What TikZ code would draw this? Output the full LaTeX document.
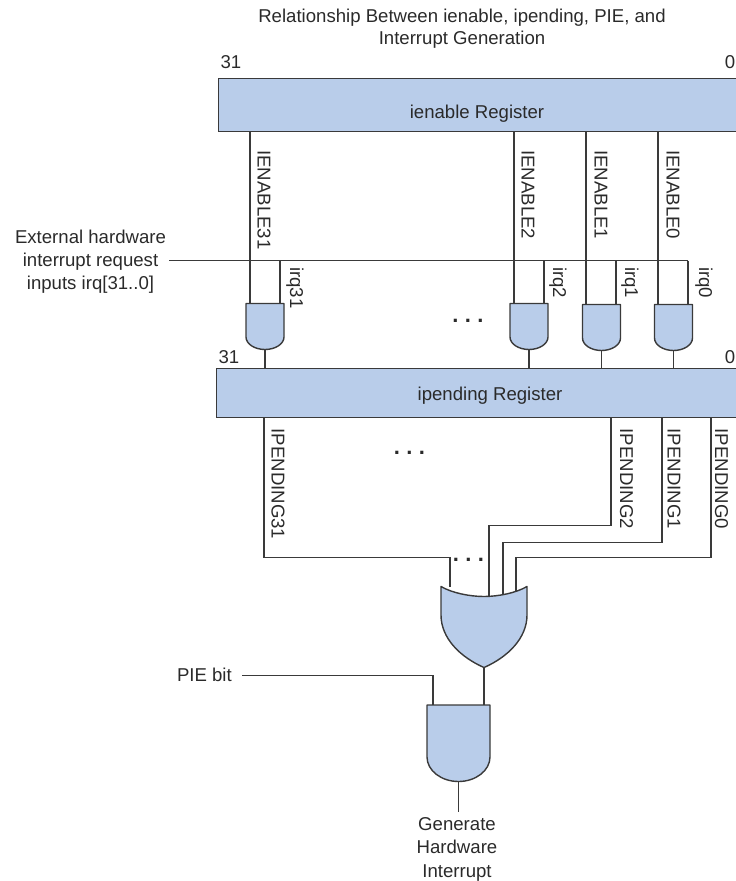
\documentclass[tikz,border=0pt]{standalone}
\usepackage{fontspec}
\setmainfont{Liberation Sans}
\definecolor{gatefill}{HTML}{B9CDEA}
\definecolor{ink}{HTML}{3A3A3A}
\definecolor{txt}{HTML}{2A2A2A}
\tikzset{
  wire/.style={draw=ink,line width=1.3pt},
  gate/.style={draw=ink,line width=1.4pt,fill=gatefill,line join=round},
  reg/.style={draw=ink,line width=1.4pt,fill=gatefill,rectangle,inner sep=0pt,anchor=north west},
  lbl/.style={text=txt,inner sep=0pt,font=\fontsize{18.6}{22}\selectfont},
  vlbl/.style={lbl,rotate=-90,anchor=west},
  dots/.style={text=txt,inner sep=0pt,anchor=base,font=\bfseries\fontsize{22}{24}\selectfont},
}
% name, left, right, top, straight-end, bottom
\newcommand{\andgate}[6]{%
  \pgfmathsetmacro{\cx}{(#2+#3)/2}%
  \pgfmathsetmacro{\kx}{0.55*(#3-#2)/2}%
  \pgfmathsetmacro{\ky}{#5+0.55*(#6-#5)}%
  \path[gate] (#2,#4) -- (#3,#4) -- (#3,#5)
    .. controls (#3,\ky) and ({\cx+\kx},#6) .. (\cx,#6)
    .. controls ({\cx-\kx},#6) and (#2,\ky) .. (#2,#5) -- cycle;
  \coordinate (#1out) at (\cx,#6);
}
\newcommand{\threedots}{.\hspace{6.4pt}.\hspace{6.4pt}.}
\begin{document}
\begin{tikzpicture}[x=1pt,y=-1pt]
\useasboundingbox (0,0) rectangle (736,881);
% registers
\node[reg,minimum width=522pt,minimum height=53pt] (ien) at (218,78) {};
\node[reg,minimum width=524pt,minimum height=49pt] (ipe) at (216,368) {};
\node[lbl] (ient) at (477,113.5) {ienable Register};
\node[lbl] (ipet) at (490,395.5) {ipending Register};
% title
\node[lbl,align=center] (title) at (462,29) {Relationship Between ienable, ipending, PIE, and\\Interrupt Generation};
\node[lbl] (n31a) at (231,62) {31};
\node[lbl,anchor=east] (n0a) at (735.5,62) {0};
\node[lbl] (n31b) at (229,357) {31};
\node[lbl,anchor=east] (n0b) at (735.5,357) {0};
% irq input
\node[lbl,align=center,font=\fontsize{18.6}{23}\selectfont] (ext) at (90.5,262) {External hardware\\interrupt request\\inputs irq[31..0]};
\coordinate (busL) at (169,260.5);
\coordinate (busR) at (688,260.5);
\draw[wire] (busL) -- (busR);
% wires into first-rank gates
\foreach \nm/\a/\b/\t in {31/250/280/303.5,2/514/544/303.5,1/586/616/304.5,0/658/688/304.5}{
  \coordinate (en\nm) at (\a,131);
  \coordinate (ain\nm) at (\a,\t);
  \coordinate (irqt\nm) at (\b,260.5);
  \coordinate (irqb\nm) at (\b,\t);
  \draw[wire] (en\nm) -- (ain\nm);
  \draw[wire] (irqt\nm) -- (irqb\nm);
}
% gates
\andgate{g31}{246}{284}{303.5}{337}{349.5}
\andgate{g2}{510}{548}{303.5}{337}{349.5}
\andgate{g1}{582.5}{620.5}{304.5}{338}{350.5}
\andgate{g0}{654.5}{692.5}{304.5}{338}{350.5}
\foreach \g in {g31,g2,g1,g0}{
  \draw[wire] (\g out) -- (\g out |- ipe.north);
}
% labels on wires
\node[vlbl] (l31) at (264,150) {IENABLE31};
\node[vlbl] (l2) at (528,150) {IENABLE2};
\node[vlbl] (l1) at (601,150) {IENABLE1};
\node[vlbl] (l0) at (673,150) {IENABLE0};
\node[vlbl] (q31) at (295,267) {irq31};
\node[vlbl] (q2) at (558,267) {irq2};
\node[vlbl] (q1) at (630,267) {irq1};
\node[vlbl] (q0) at (704,267) {irq0};
\node[dots] (d1) at (468,322.5) {\threedots};
\node[dots] (d2) at (409.5,454.5) {\threedots};
\node[dots] (d3) at (468.5,561.5) {\threedots};
% pending outputs
\coordinate (p31) at (264,417); \coordinate (p31b) at (450,587);
\coordinate (p2) at (611,417);  \coordinate (p2b) at (489,597);
\coordinate (p1) at (662,417);  \coordinate (p1b) at (503,596);
\coordinate (p0) at (711,417);  \coordinate (p0b) at (516,594);
\draw[wire] (p31) |- (450,557.5) -- (p31b);
\draw[wire] (p2) |- (489,525.5) -- (p2b);
\draw[wire] (p1) |- (503,542.5) -- (p1b);
\draw[wire] (p0) |- (516,557.5) -- (p0b);
\node[vlbl] (pl31) at (278,428.5) {IPENDING31};
\node[vlbl] (pl2) at (626.5,428.5) {IPENDING2};
\node[vlbl] (pl1) at (674,428.5) {IPENDING1};
\node[vlbl] (pl0) at (721.5,428.5) {IPENDING0};
% OR gate
\path[gate] (441,586.5) .. controls (452,593) and (470,596.5) .. (484,596.5)
  .. controls (498,596.5) and (516,593) .. (527,586.5) -- (527,615)
  .. controls (527,638) and (508,657) .. (484,667.5)
  .. controls (460,657) and (441,638) .. (441,615) -- cycle;
\coordinate (orout) at (484,667.5);
% final AND
\coordinate (pieL) at (242,675.5);
\node[lbl,anchor=east] (pie) at (232,675) {PIE bit};
\coordinate (pieIn) at (433,705);
\draw[wire] (pieL) -| (pieIn);
\coordinate (orIn) at (484,705);
\draw[wire] (orout) -- (orIn);
\andgate{gf}{427}{490}{705}{757}{781.5}
\coordinate (genEnd) at (458.5,812);
\draw[wire] (gfout) -- (genEnd);
\node[lbl,align=center,anchor=north,font=\fontsize{18.6}{23.3}\selectfont] (gen) at (457,817.5) {Generate\\Hardware\\Interrupt};
\end{tikzpicture}
\end{document}
